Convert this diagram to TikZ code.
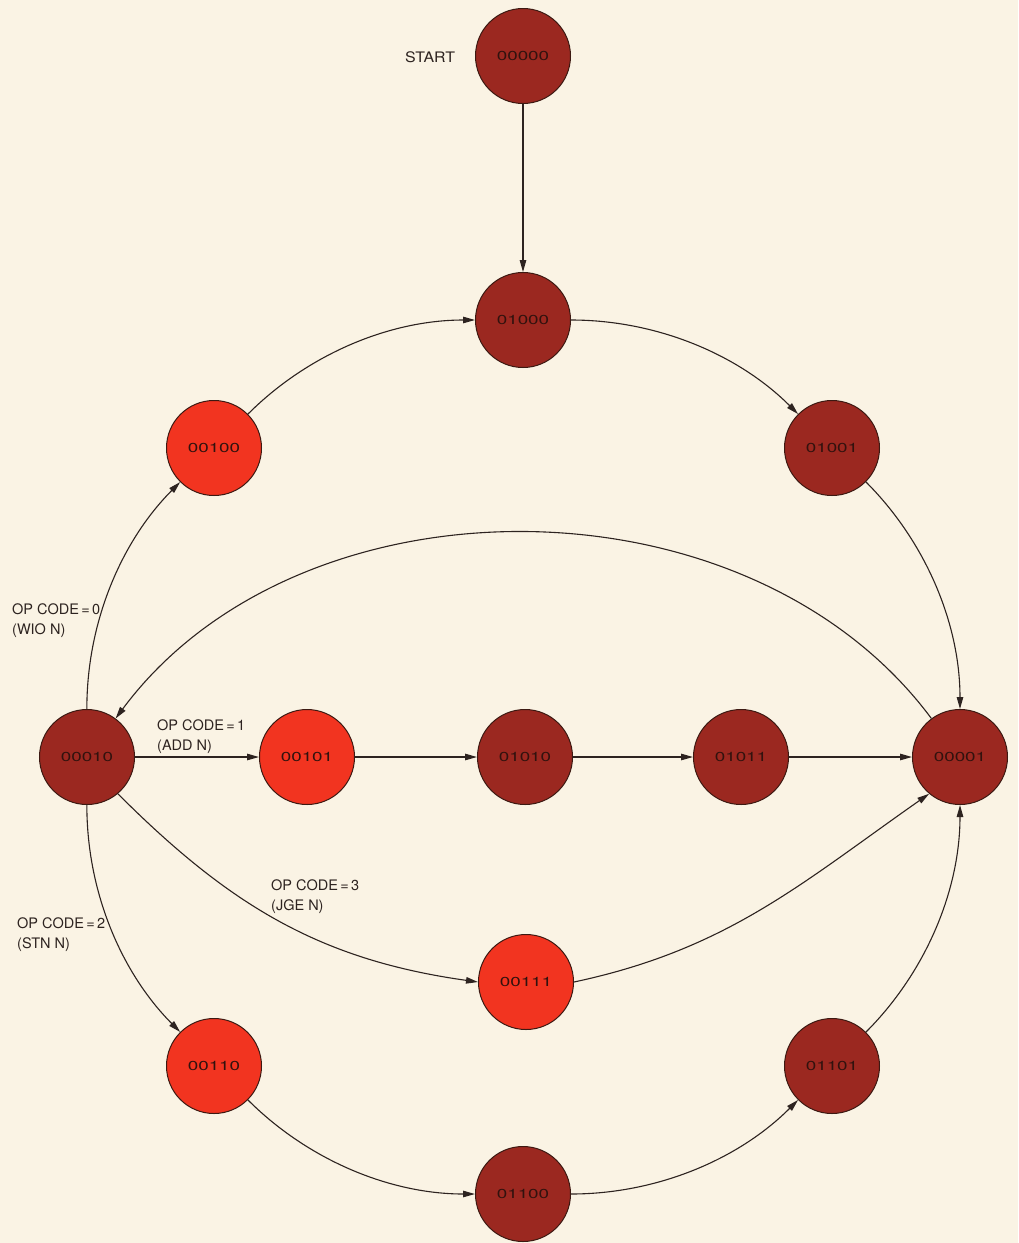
\documentclass[tikz,border=0pt]{standalone}
\usepackage{fontspec}
\setmainfont{TeX Gyre Heros}
\usetikzlibrary{arrows.meta}
\definecolor{bg}{RGB}{250,243,228}
\definecolor{darkred}{RGB}{155,40,32}
\definecolor{brightred}{RGB}{242,52,32}
\definecolor{rim}{RGB}{60,25,18}
\definecolor{ink}{RGB}{45,35,32}
\definecolor{numink}{RGB}{50,18,14}
\newcommand{\ntxt}[1]{\scalebox{1.45}[1]{#1}}
\begin{document}
\begin{tikzpicture}[x=1pt,y=1pt,
  state/.style={circle, draw=rim, line width=1pt, minimum size=95pt, inner sep=0pt, text=numink, font=\fontsize{13}{13}\selectfont},
  dk/.style={state, fill=darkred},
  br/.style={state, fill=brightred},
  lbl/.style={text=ink, font=\fontsize{14.5}{20}\selectfont, align=left, inner sep=0pt},
  edge/.style={draw=ink, line width=1.1pt, -{Triangle[length=12pt,width=6.5pt]}},
  arcedge/.style={edge, looseness=0.885}
]
\fill[bg] (0,0) rectangle (1018,-1243);
\useasboundingbox (0,0) rectangle (1018,-1243);

\node[dk] (n00000) at (523,-56) {\ntxt{00000}};
\node[dk] (n01000) at (523,-320) {\ntxt{01000}};
\node[br] (n00100) at (214,-448) {\ntxt{00100}};
\node[dk] (n01001) at (832,-448) {\ntxt{01001}};
\node[dk] (n00010) at (87,-757) {\ntxt{00010}};
\node[br] (n00101) at (307,-757) {\ntxt{00101}};
\node[dk] (n01010) at (525,-757) {\ntxt{01010}};
\node[dk] (n01011) at (741,-757) {\ntxt{01011}};
\node[dk] (n00001) at (960,-757) {\ntxt{00001}};
\node[br] (n00111) at (526,-982) {\ntxt{00111}};
\node[br] (n00110) at (214,-1066) {\ntxt{00110}};
\node[dk] (n01101) at (832,-1066) {\ntxt{01101}};
\node[dk] (n01100) at (523,-1194) {\ntxt{01100}};

\node[lbl, anchor=west] (lstart) at (405,-57) {\scalebox{1.1}[1]{START}};
\node[lbl, anchor=north west] (l0) at (12,-603) {OP CODE\,=\,0\\(WIO N)};
\node[lbl, anchor=north west] (l1) at (157,-719) {OP CODE\,=\,1\\(ADD N)};
\node[lbl, anchor=north west] (l2) at (17,-917) {OP CODE\,=\,2\\(STN N)};
\node[lbl, anchor=north west] (l3) at (271,-879) {OP CODE\,=\,3\\(JGE N)};

\draw[edge] (n00000) -- (n01000);
\draw[arcedge] (n00010) to[bend left=22.5] (n00100);
\draw[arcedge] (n00100) to[bend left=22.5] (n01000);
\draw[arcedge] (n01000) to[bend left=22.5] (n01001);
\draw[arcedge] (n01001) to[bend left=22.5] (n00001);
\draw[arcedge] (n00010) to[bend right=22.5] (n00110);
\draw[arcedge] (n00110) to[bend right=22.5] (n01100);
\draw[arcedge] (n01100) to[bend right=22.5] (n01101);
\draw[arcedge] (n01101) to[bend right=22.5] (n00001);
\draw[edge, looseness=0.97] (n00001) to[bend right=53.4] (n00010);
\draw[edge] (n00010) -- (n00101);
\draw[edge] (n00101) -- (n01010);
\draw[edge] (n01010) -- (n01011);
\draw[edge] (n01011) -- (n00001);
\draw[edge] (n00010.-50) to[out=-45,in=172] (n00111.west);
\draw[edge] (n00111.east) to[out=12,in=215] (n00001.-130);
\end{tikzpicture}
\end{document}
